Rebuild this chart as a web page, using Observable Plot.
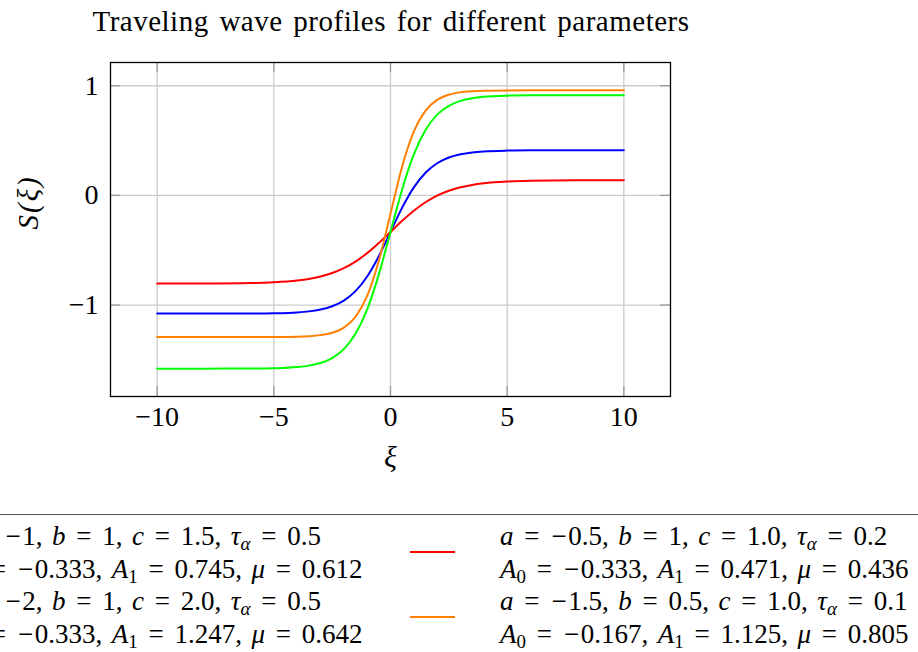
<!DOCTYPE html>
<html>
<head>
<meta charset="utf-8">
<script src="https://cdn.jsdelivr.net/npm/d3@7"></script>
<script src="https://cdn.jsdelivr.net/npm/@observablehq/plot@0.6"></script>
<style>
  html, body { margin: 0; padding: 0; background: white; overflow: hidden; }
  body { width: 918px; height: 652px; position: relative; font-family: "Liberation Serif", serif; color: black; }
  #title { position: absolute; left: 0; width: 782px; top: 5px; text-align: center; font-size: 29px; letter-spacing: 0.5px; word-spacing: 3px; }
  #chart { position: absolute; left: 0; top: 0; }
  #legend { position: absolute; left: -10px; top: 514px; width: 1000px; height: 200px; border-top: 1.4px solid #555; }
  .sw { position: absolute; width: 45px; height: 2px; }
  .lt { position: absolute; font-size: 27px; line-height: 32.5px; white-space: nowrap; }
  .lt sub { font-size: 19px; line-height: 0; vertical-align: -5px; }
  .eq { margin: 0 0.4em; }
  .mn { margin: 0 0.06em 0 0.04em; }
  .cm { margin-right: 0.1em; }
  i { font-style: italic; }
</style>
</head>
<body>
<div id="title">Traveling wave profiles for different parameters</div>
<div id="chart"></div>
<div id="legend"></div>
<script>
// ---- data ----
const xi = [-10, -8, -6, -5, -4, -3.5, -3, -2.5, -2, -1.5, -1, -0.5, 0, 0.5, 1, 1.5, 2, 2.5, 3, 3.5, 4, 5, 6, 8, 10];
const sBlue   = [-1.078, -1.0779, -1.0770, -1.0747, -1.0670, -1.0577, -1.0410, -1.0112, -0.9594, -0.8731, -0.7394, -0.5543, -0.333, -0.1117, 0.0734, 0.2071, 0.2934, 0.3452, 0.3750, 0.3917, 0.4010, 0.4087, 0.4110, 0.4119, 0.412];
const sRed    = [-0.8038, -0.8031, -0.7990, -0.7921, -0.7761, -0.7615, -0.7398, -0.7083, -0.6638, -0.6035, -0.5263, -0.4341, -0.333, -0.2319, -0.1397, -0.0625, -0.0022, 0.0423, 0.0738, 0.0955, 0.1101, 0.1261, 0.1330, 0.1371, 0.1378];
const sGreen  = [-1.580, -1.5799, -1.5789, -1.5759, -1.5654, -1.5524, -1.5281, -1.4832, -1.4024, -1.2628, -1.0392, -0.7201, -0.333, 0.0541, 0.3732, 0.5968, 0.7364, 0.8172, 0.8621, 0.8864, 0.8994, 0.9099, 0.9129, 0.9139, 0.914];
const sOrange = [-1.292, -1.292, -1.2919, -1.2913, -1.2884, -1.2840, -1.2742, -1.2525, -1.2056, -1.1074, -0.9172, -0.5969, -0.167, 0.2629, 0.5832, 0.7734, 0.8716, 0.9185, 0.9402, 0.9500, 0.9544, 0.9573, 0.9579, 0.958, 0.958];

const seriesIds = ["s1", "s2", "s3", "s4"];
const seriesColors = ["#0000ff", "#ff0000", "#00ff00", "#ff8000"];
const seriesValues = [sBlue, sRed, sGreen, sOrange];

// legend parameters (same order as series)
const pA   = ["−1", "−0.5", "−2", "−1.5"];
const pB   = ["1", "1", "1", "0.5"];
const pC   = ["1.5", "1.0", "2.0", "1.0"];
const pTau = ["0.5", "0.2", "0.5", "0.1"];
const pA0  = ["−0.333", "−0.333", "−0.333", "−0.167"];
const pA1  = ["0.745", "0.471", "1.247", "1.125"];
const pMu  = ["0.612", "0.436", "0.642", "0.805"];

const xTicks = [-10, -5, 0, 5, 10];
const yTicks = [-1, 0, 1];

const xLabel = "ξ";
const yLabel = "S(ξ)";

// ---- build table ----
const rows = [];
seriesIds.forEach((id, i) => {
  xi.forEach((x, j) => rows.push({series: id, x, y: seriesValues[i][j]}));
});

const W = 918, H = 480;
const mL = 110, mR = 248, mT = 62, mB = 84;
const frameH = H - mT - mB, frameW = W - mL - mR;
const tickLen = 10;
const tickColor = "#9a9a9a";
const gridColor = "#cccccc";
const font = "Liberation Serif";
const intFmt = d3.format("d");

const chart = Plot.plot({
  width: W, height: H,
  marginLeft: mL, marginRight: mR, marginTop: mT, marginBottom: mB,
  style: {fontFamily: font, fontSize: "28px", background: "transparent", color: "black"},
  x: {domain: [-12, 12], label: null},
  y: {domain: [-1.834, 1.212], label: null},
  color: {domain: seriesIds, range: seriesColors},
  marks: [
    Plot.gridX(xTicks, {stroke: gridColor, strokeOpacity: 1, strokeWidth: 1.3}),
    Plot.gridY(yTicks, {stroke: gridColor, strokeOpacity: 1, strokeWidth: 1.3}),
    Plot.tickX(xTicks, {x: d => d, insetTop: frameH - tickLen, stroke: tickColor, strokeWidth: 1.3}),
    Plot.tickX(xTicks, {x: d => d, insetBottom: frameH - tickLen, stroke: tickColor, strokeWidth: 1.3}),
    Plot.tickY(yTicks, {y: d => d, insetRight: frameW - tickLen, stroke: tickColor, strokeWidth: 1.3}),
    Plot.tickY(yTicks, {y: d => d, insetLeft: frameW - tickLen, stroke: tickColor, strokeWidth: 1.3}),
    Plot.line(rows, {x: "x", y: "y", z: "series", stroke: "series", strokeWidth: 2, curve: "monotone-x"}),
    Plot.frame({stroke: "black", strokeWidth: 1.3}),
    Plot.axisX(xTicks, {tickSize: 0, tickPadding: 10, fontSize: 28, tickFormat: intFmt, label: null}),
    Plot.axisY(yTicks, {tickSize: 0, tickPadding: 12, fontSize: 28, tickFormat: intFmt, label: null}),
    Plot.text([xLabel], {frameAnchor: "bottom", dy: 70, fontSize: 30, fontStyle: "italic"}),
    Plot.text([yLabel], {frameAnchor: "left", dx: -82, rotate: -90, fontSize: 29, fontStyle: "italic"})
  ]
});
document.getElementById("chart").appendChild(chart);
// letter spacing for the y label
chart.querySelectorAll("text").forEach(t => { if (t.textContent === yLabel) t.setAttribute("letter-spacing", "2"); });

// ---- legend (2 columns, row-wise) ----
const legend = document.getElementById("legend");
const legLeft = -10; // legend div offset
const colTextX = [-46, 500];
const rowTop = [519, 584];
const eq = `<span class="eq">=</span>`;
const num = s => s.replace("−", `<span class="mn">−</span>`);
const cm = `,<span class="cm"></span> `;
seriesIds.forEach((id, i) => {
  const col = i % 2, row = Math.floor(i / 2);
  const tx = colTextX[col] - legLeft;
  const top = rowTop[row] - 514;
  const sw = document.createElement("div");
  sw.className = "sw";
  sw.style.left = (tx - 90) + "px";
  sw.style.top = (top + 31) + "px";
  sw.style.background = seriesColors[i];
  legend.appendChild(sw);
  const t = document.createElement("div");
  t.className = "lt";
  t.style.left = tx + "px";
  t.style.top = top + "px";
  t.innerHTML = `<i>a</i>${eq}${num(pA[i])}${cm}<i>b</i>${eq}${pB[i]}${cm}<i>c</i>${eq}${pC[i]}${cm}<i>τ</i><sub><i>α</i></sub>${eq}${pTau[i]}<br>` +
                `<i>A</i><sub>0</sub>${eq}${num(pA0[i])}${cm}<i>A</i><sub>1</sub>${eq}${pA1[i]}${cm}<i>μ</i>${eq}${pMu[i]}`;
  legend.appendChild(t);
});
</script>
</body>
</html>
